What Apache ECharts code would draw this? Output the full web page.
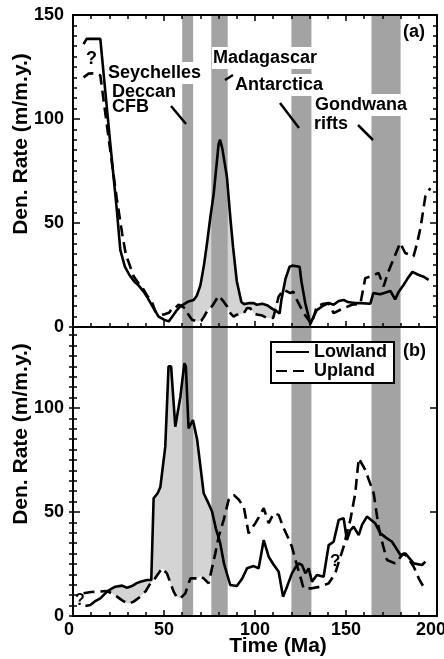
<!DOCTYPE html>
<html>
<head>
<meta charset="utf-8">
<script src="https://cdn.jsdelivr.net/npm/echarts@6/dist/echarts.min.js"></script>
<style>
  html, body { margin: 0; padding: 0; background: #fff; }
  #chart { width: 444px; height: 659px; }
</style>
</head>
<body>
<div id="chart"></div>
<script>
// panel (a) - [time Ma, rate]
const lowlandA = [[5.8,136],[7.5,138.5],[15,138.5],[20.5,88],[24,57],[26,37],[28.5,29],[31,25],[33.5,22],[36,20],[38.8,17],[41,14],[44.3,9],[47,5],[50,3.5],[52.6,2.7],[55,5.5],[57,8],[59,10],[61,11],[63.5,12.3],[66.3,13],[68,15],[70,20],[72,30],[73.6,40],[75.5,53],[77.3,64],[79,79],[80,88],[80.8,90],[82,86],[84.6,72],[86.5,52],[88,38],[90,22],[92.5,12],[94,11],[97,11.5],[99.3,11.5],[101,10.7],[104,11.2],[106.6,10.5],[110,8.5],[112,7.5],[113.5,6.5],[114.5,13],[116.7,23],[119,29],[120.5,29.5],[124.5,29],[125.5,22],[127.6,11.5],[130.4,1.5],[133.8,8],[137,10],[140.5,11.5],[143.2,10.7],[146,12.5],[148.7,13],[151,12],[155,11.5],[158,11.5],[163.4,11.2],[165,16.3],[168.8,15.7],[171,16.3],[174.4,17.3],[177,13.3],[179,17],[181.7,20.3],[184,23.5],[186.5,26.5],[190,25],[193,24],[195.4,22.7]];
const uplandA = [[5.8,120],[8.6,121.8],[13,122],[15,121],[20,88],[24,62],[27,45],[29,35],[33.3,24.4],[36,21],[38.8,18],[41,14.7],[43,13],[45.2,7.5],[48,6],[50,6],[53,7],[54.4,9],[56,9],[58,10.7],[59,10],[61.7,9],[63,6.5],[65.4,3.5],[68,2.7],[70.5,3],[72,5],[73.6,7.5],[76.4,10],[80,15],[82.7,12.3],[84.6,10],[86.4,6.7],[88.3,5],[90,5.9],[93.8,6.5],[95.6,9.1],[97.4,9],[99.2,6.7],[101,6],[104,5.5],[106.6,4.3],[110,4.3],[113,14.7],[115.7,17.9],[119.4,16.3],[121,17],[123,13],[126.7,6.7],[131,1.5],[134,10],[137,11],[140.5,11.5],[143.2,6.7],[146.9,8.3],[150,9.5],[153.3,10.7],[157.9,11.2],[160.6,23.5],[164,24.5],[167.9,26],[170.7,19.5],[173,26],[176,32.4],[179.8,40.4],[182.5,35.6],[187.1,34],[189,40],[191,48],[193.6,62.8],[196.3,66.8]];

// panel (b)
const lowlandB = [[6.8,4.8],[9.5,5.3],[12,7],[15,8.5],[18.7,11.7],[21,13],[23.3,14.1],[26.9,14.6],[29.7,13.6],[32.4,14.4],[35,15.8],[37,16.5],[40.7,17.3],[43,17.3],[44.3,56.6],[46.5,59],[48,62],[50.7,81.4],[52.5,120],[53.9,120],[56.2,91],[59,105.4],[61.2,121.5],[62,120],[63.5,90.2],[65.9,94.2],[68.2,84.8],[70,72],[71.8,59],[74,55],[76.4,50.2],[78.5,42],[80.9,35],[83,25],[86.4,14.9],[90,14.4],[93,18],[95.6,22.9],[99.3,24],[102,22.9],[104.8,36.5],[107.5,28.5],[110,25],[113,21.3],[115.4,9.3],[117.6,14.1],[120.3,20.5],[122,23],[124,25.3],[125.8,24.5],[127.7,20.5],[129.5,22.9],[131.3,16.5],[134,19.7],[137.7,18.9],[140.5,34.1],[143.2,35.7],[146,46.2],[148.7,47],[150.5,36.5],[152.4,41.3],[154.2,42.9],[157,38.9],[158.8,43.8],[161.5,47.8],[166,44.6],[168.9,39.7],[172.5,37.3],[175.3,35.7],[179.9,29.3],[182.6,30.1],[187.2,25.3],[191.8,24.5],[193.6,26.1]];
const uplandB = [[5.8,10.9],[10,11.5],[13.2,11.7],[18.7,12],[21,11],[24.2,9.3],[27,7.5],[29.7,6.1],[31,6],[33.3,6.9],[37,9.3],[40,12],[42.5,15.7],[45,18],[48.9,22.9],[51.6,20.5],[53.5,16],[55.3,11.7],[57,9],[59,8.5],[61.7,10.9],[64.5,18.1],[68.1,18.1],[70,19],[71.8,18.1],[74.5,15.7],[78.2,30.1],[80,38],[82.8,46.2],[85.5,55.8],[88.3,58.2],[91,56],[93.8,52.6],[96.5,39.7],[98,42],[100.2,44.6],[102.5,48],[104.8,51.8],[107.5,44.6],[110.3,49.4],[113,48.6],[115.8,42.1],[118,38],[120.3,33.3],[122.5,26],[124.9,18.9],[126.7,13.3],[131.3,13.3],[135.9,14.1],[140.5,15.7],[144.1,20.5],[146,26],[148.7,33.3],[150.5,40],[152.4,46.2],[155.1,59],[157,75.8],[160.6,70.2],[165.2,59],[167.9,42.9],[170,35],[172.5,26.9],[177,25.3],[181.7,30.1],[184,28],[187.2,23.7],[190,18],[193.6,12.5]];

// event bands (Ma)
const eventBands = [[60,66],[76,85],[120,131],[164,180]];
// shaded lowland > upland ranges
const fillA = [[59,131]];
const fillB = [[19,80.6]];

const yMaxA = 150;
const yMaxB = 138.9;

const FONT = '"Liberation Sans", Arial, sans-serif';
const BAND = '#a3a3a3';
const FILL = '#d4d4d4';

function interp(pts, t) {
  if (t <= pts[0][0]) return pts[0][1];
  for (let i = 0; i < pts.length - 1; i++) {
    if (t >= pts[i][0] && t <= pts[i + 1][0]) {
      const f = (t - pts[i][0]) / (pts[i + 1][0] - pts[i][0]);
      return pts[i][1] + f * (pts[i + 1][1] - pts[i][1]);
    }
  }
  return pts[pts.length - 1][1];
}

// polygon between upland (bottom) and max(lowland, upland) (top)
function fillPoly(low, up, a, b) {
  const ts = [a, b].concat(low.map(p => p[0]), up.map(p => p[0]))
    .filter(t => t >= a && t <= b).sort((x, y) => x - y);
  const top = ts.map(t => [t, Math.max(interp(low, t), interp(up, t))]);
  const bot = ts.map(t => [t, interp(up, t)]).reverse();
  return top.concat(bot);
}

function fillSeries(idx, low, up, ranges) {
  return {
    type: 'custom', xAxisIndex: idx * 2, yAxisIndex: idx === 0 ? 0 : 2, z: 1, silent: true,
    data: ranges,
    renderItem: (params, api) => {
      const r = ranges[params.dataIndex];
      const pts = fillPoly(low, up, r[0], r[1]).map(p => api.coord(p));
      return { type: 'polygon', shape: { points: pts }, style: { fill: FILL } };
    }
  };
}

function bandSeries(idx) {
  return {
    type: 'custom', xAxisIndex: idx * 2, yAxisIndex: idx === 0 ? 0 : 2, z: 2, silent: true,
    data: eventBands,
    renderItem: (params, api) => {
      const cs = params.coordSys;
      const x0 = api.coord([api.value(0), 0])[0];
      const x1 = api.coord([api.value(1), 0])[0];
      return { type: 'rect', shape: { x: x0, y: cs.y, width: x1 - x0, height: cs.height }, style: { fill: BAND } };
    }
  };
}

function lineSeries(name, data, idx, dashed) {
  return {
    name: name, type: 'line', xAxisIndex: idx * 2, yAxisIndex: idx === 0 ? 0 : 2, z: 3,
    data: data, symbol: 'none', showSymbol: false,
    lineStyle: { color: '#000', width: 2.6, type: dashed ? [11, 6] : 'solid' },
    itemStyle: { color: '#000' }
  };
}

const axLine = { show: true, onZero: false, lineStyle: { color: '#000', width: 2 } };
const labelStyle = { color: '#000', fontWeight: 'bold', fontSize: 18, fontFamily: FONT };

function xAx(grid, pos, labels, ticks) {
  return {
    type: 'value', gridIndex: grid, position: pos, min: 0, max: 200, interval: 50, z: 10,
    axisLine: axLine,
    axisTick: { show: ticks, inside: true, length: 6, lineStyle: { color: '#000', width: 1.5 } },
    minorTick: { show: ticks, splitNumber: 5, length: 4, lineStyle: { color: '#000', width: 1.5 } },
    axisLabel: Object.assign({
      show: labels, margin: 5,
      // end labels sit slightly inward in the original
      formatter: v => v === 0 ? '{e0|0}' : v === 200 ? '{e1|200}' : String(v),
      rich: {
        e0: Object.assign({ padding: [0, 8, 0, 0] }, labelStyle),
        e1: Object.assign({ padding: [0, 12, 0, 0] }, labelStyle)
      }
    }, labelStyle),
    splitLine: { show: false }
  };
}

function yAx(grid, pos, max, interval, labels, len, line) {
  return {
    type: 'value', gridIndex: grid, position: pos, min: 0, max: max, interval: interval, z: 10,
    axisLine: line ? axLine : { show: false },
    axisTick: { show: true, inside: true, length: len, lineStyle: { color: '#000', width: 1.5 } },
    axisLabel: Object.assign({ show: labels, margin: 9, showMaxLabel: max % interval === 0 }, labelStyle),
    splitLine: { show: false }
  };
}

const gridA = { left: 73, right: 7, top: 15, height: 312, outerBoundsMode: 'none', containLabel: false };
const gridB = { left: 73, right: 7, top: 327, height: 289, outerBoundsMode: 'none', containLabel: false };

function label(text, x, y, bg) {
  const style = { text: text, x: 0, y: 0, fill: '#000', font: 'bold 18px ' + FONT, align: 'left', verticalAlign: 'middle' };
  if (bg) { style.backgroundColor = '#fff'; style.padding = [2, 1, 2, 1]; }
  return { type: 'text', x: x, y: y, z: 100, style: style };
}
function leader(x1, y1, x2, y2) {
  return { type: 'line', z: 100, shape: { x1, y1, x2, y2 }, style: { stroke: '#000', lineWidth: 2.5 } };
}

const minorY = { show: true, splitNumber: 10, length: 4, lineStyle: { color: '#000', width: 1.5 } };

const chart = echarts.init(document.getElementById('chart'), null, { renderer: 'canvas' });
chart.setOption({
  animation: false,
  backgroundColor: '#fff',
  grid: [gridA, gridB],
  xAxis: [
    xAx(0, 'bottom', false, true),
    xAx(0, 'top', false, true),
    xAx(1, 'bottom', true, true),
    xAx(1, 'top', false, false)
  ],
  yAxis: [
    Object.assign(yAx(0, 'left', yMaxA, 50, true, 7, true), { minorTick: minorY }),
    Object.assign(yAx(0, 'right', yMaxA, 50, false, 7, true), { minorTick: minorY }),
    yAx(1, 'left', yMaxB, 50, true, 7, true),
    yAx(1, 'left', yMaxB, 5, false, 4, false),
    yAx(1, 'right', yMaxB, 50, false, 7, true),
    yAx(1, 'right', yMaxB, 5, false, 4, false)
  ],
  legend: {
    data: ['Lowland', 'Upland'],
    orient: 'vertical', left: 271, top: 342,
    itemWidth: 33, itemHeight: 14, itemGap: 1,
    padding: [1, 7, 3, 4],
    borderColor: '#000', borderWidth: 2, backgroundColor: '#fff',
    itemStyle: { color: 'transparent', opacity: 0, borderWidth: 0 },
    textStyle: { color: '#000', fontWeight: 'bold', fontSize: 18, fontFamily: FONT, lineHeight: 18 },
    z: 20
  },
  series: [
    fillSeries(0, lowlandA, uplandA, fillA),
    fillSeries(1, lowlandB, uplandB, fillB),
    bandSeries(0),
    bandSeries(1),
    lineSeries('LowlandA', lowlandA, 0, false),
    lineSeries('UplandA', uplandA, 0, true),
    lineSeries('Lowland', lowlandB, 1, false),
    lineSeries('Upland', uplandB, 1, true)
  ],
  graphic: [
    { type: 'text', x: 21, y: 144, rotation: Math.PI / 2, z: 100,
      style: { text: 'Den. Rate (m/m.y.)', fill: '#000', font: 'bold 21px ' + FONT, align: 'center', verticalAlign: 'middle' } },
    { type: 'text', x: 21, y: 434, rotation: Math.PI / 2, z: 100,
      style: { text: 'Den. Rate (m/m.y.)', fill: '#000', font: 'bold 21px ' + FONT, align: 'center', verticalAlign: 'middle' } },
    { type: 'text', x: 278, y: 646, z: 100,
      style: { text: 'Time (Ma)', fill: '#000', font: 'bold 21px ' + FONT, align: 'center', verticalAlign: 'middle' } },
    label('(a)', 403, 32, false),
    label('(b)', 403, 351, false),
    label('?', 86, 59, false),
    label('Seychelles', 107, 73, true),
    label('Deccan', 112, 92, false),
    label('CFB', 112, 107, false),
    label('Madagascar', 212, 58, true),
    label('Antarctica', 234, 85, true),
    label('Gondwana', 314, 105, true),
    label('rifts', 314, 124, false),
    leader(171, 106, 186, 124),
    leader(225, 80, 233, 75),
    leader(280, 103, 299, 128),
    leader(358, 125, 373, 140),
    { type: 'text', x: 75, y: 601, z: 100,
      style: { text: '?', fill: '#000', font: 'bold 16px ' + FONT, align: 'left', verticalAlign: 'middle' } },
    { type: 'text', x: 330, y: 561, z: 100,
      style: { text: '?', fill: '#000', font: 'bold 17px ' + FONT, align: 'left', verticalAlign: 'middle' } }
  ]
});
</script>
</body>
</html>
